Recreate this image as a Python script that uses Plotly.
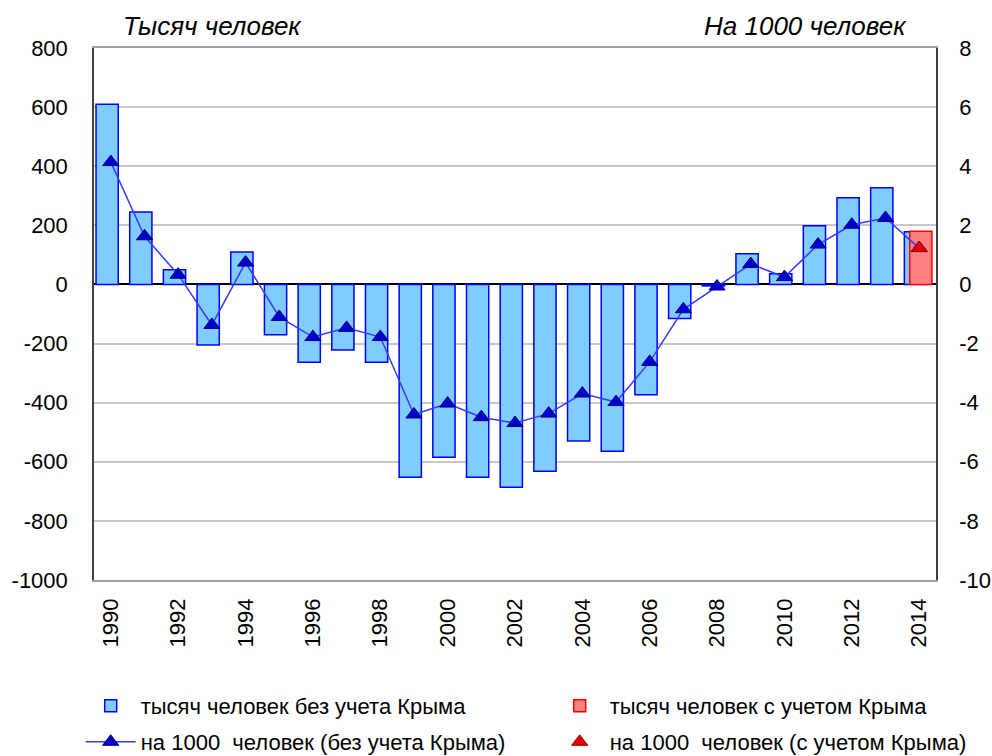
import plotly.graph_objects as go

years = list(range(1990, 2015))
thousands_no_crimea = [610, 245, 50, -205, 110, -170, -263, -222, -263, -652,
                       -585, -652, -686, -632, -530, -564, -373, -115, -5, 104,
                       36, 199, 293, 327, 178]
thousands_with_crimea_year = [2014]
thousands_with_crimea = [180]
per1000_no_crimea = [4.14, 1.63, 0.33, -1.37, 0.74, -1.1, -1.78, -1.47, -1.78, -4.4,
                     -4.03, -4.49, -4.69, -4.37, -3.69, -3.98, -2.62, -0.84, -0.07, 0.69,
                     0.25, 1.35, 2.02, 2.25, 1.23]
per1000_with_crimea = [1.23]
tick_years = list(range(1990, 2015, 2))
left_ticks = list(range(-1000, 801, 200))
right_ticks = list(range(-10, 9, 2))

FONT = "Liberation Sans, Arial, sans-serif"
TICK = 22
W, H = 992, 756

fig = go.Figure()
fig.add_trace(go.Bar(
    x=years, y=thousands_no_crimea, name="тысяч человек без учета Крыма",
    width=0.66, offset=-0.44,
    marker=dict(color="#80CCFF", line=dict(color="#0000FF", width=1.5)),
    yaxis="y", legend="legend"))
fig.add_trace(go.Bar(
    x=thousands_with_crimea_year, y=thousands_with_crimea, name="тысяч человек с учетом Крыма",
    width=0.66, offset=-0.28,
    marker=dict(color="#FF8080", line=dict(color="#FF0000", width=1.5)),
    yaxis="y", legend="legend2"))
fig.add_trace(go.Scatter(
    x=years, y=per1000_no_crimea, name="на 1000  человек (без учета Крыма)",
    mode="lines+markers",
    line=dict(color="#3a3aFF", width=1.5),
    marker=dict(symbol="triangle-up", size=14, color="#0000CC",
                line=dict(color="#000080", width=1)),
    yaxis="y2", legend="legend3"))
fig.add_trace(go.Scatter(
    x=thousands_with_crimea_year, y=per1000_with_crimea, name="на 1000  человек (с учетом Крыма)",
    mode="markers",
    marker=dict(symbol="triangle-up", size=14, color="#E00000",
                line=dict(color="#900000", width=1)),
    yaxis="y2", legend="legend4"))

def leg(xpx, ypx):
    return dict(orientation="h", xref="container", yref="container",
                x=xpx / W, y=(H - ypx) / H, xanchor="left", yanchor="middle",
                font=dict(family=FONT, size=22, color="#000000"),
                itemwidth=50, bgcolor="rgba(0,0,0,0)")

fig.update_layout(
    width=W, height=H,
    margin=dict(l=93.5, r=55.5, t=48, b=176, autoexpand=False),
    paper_bgcolor="white", plot_bgcolor="white",
    font=dict(family=FONT, size=TICK, color="#000000"),
    barmode="overlay",
    showlegend=True,
    legend=leg(80.7, 706),
    legend2=leg(549.7, 706),
    legend3=leg(80.7, 742),
    legend4=leg(549.7, 742),
    xaxis=dict(type="linear", range=[1989.5, 2014.5],
               tickvals=tick_years, ticktext=[str(y) for y in tick_years],
               tickangle=-90, ticks="", ticklabelstandoff=8,
               showgrid=False, zeroline=False,
               showline=True, linecolor="#A0A0A0", linewidth=1.5, mirror=True,
               tickfont=dict(family=FONT, size=TICK)),
    yaxis=dict(range=[-1000, 800],
               tickvals=left_ticks, ticktext=[str(v) for v in left_ticks],
               showgrid=True, gridcolor="#C8C8C8", gridwidth=1.5,
               zeroline=True, zerolinecolor="#000000", zerolinewidth=1.5,
               showline=True, linecolor="#404040", linewidth=1.5,
               ticks="", ticklabelstandoff=20,
               tickfont=dict(family=FONT, size=TICK)),
    yaxis2=dict(range=[-10, 8], overlaying="y", side="right",
                tickvals=right_ticks, ticktext=[str(v) for v in right_ticks],
                showgrid=False, zeroline=False,
                showline=True, linecolor="#404040", linewidth=1.5,
                ticks="", ticklabelstandoff=17,
                tickfont=dict(family=FONT, size=TICK)),
    annotations=[
        dict(text="<i>Тысяч человек</i>", xref="paper", yref="paper",
             x=0.1406, y=1.041, xanchor="center", yanchor="middle", showarrow=False,
             font=dict(family=FONT, size=26)),
        dict(text="<i>На 1000 человек</i>", xref="paper", yref="paper",
             x=0.845, y=1.041, xanchor="center", yanchor="middle", showarrow=False,
             font=dict(family=FONT, size=26)),
    ],
)

fig.write_html("out.html",
               config={"displayModeBar": False},
               post_script="document.body.style.margin='0px';"
                           "document.body.style.overflow='hidden';")
